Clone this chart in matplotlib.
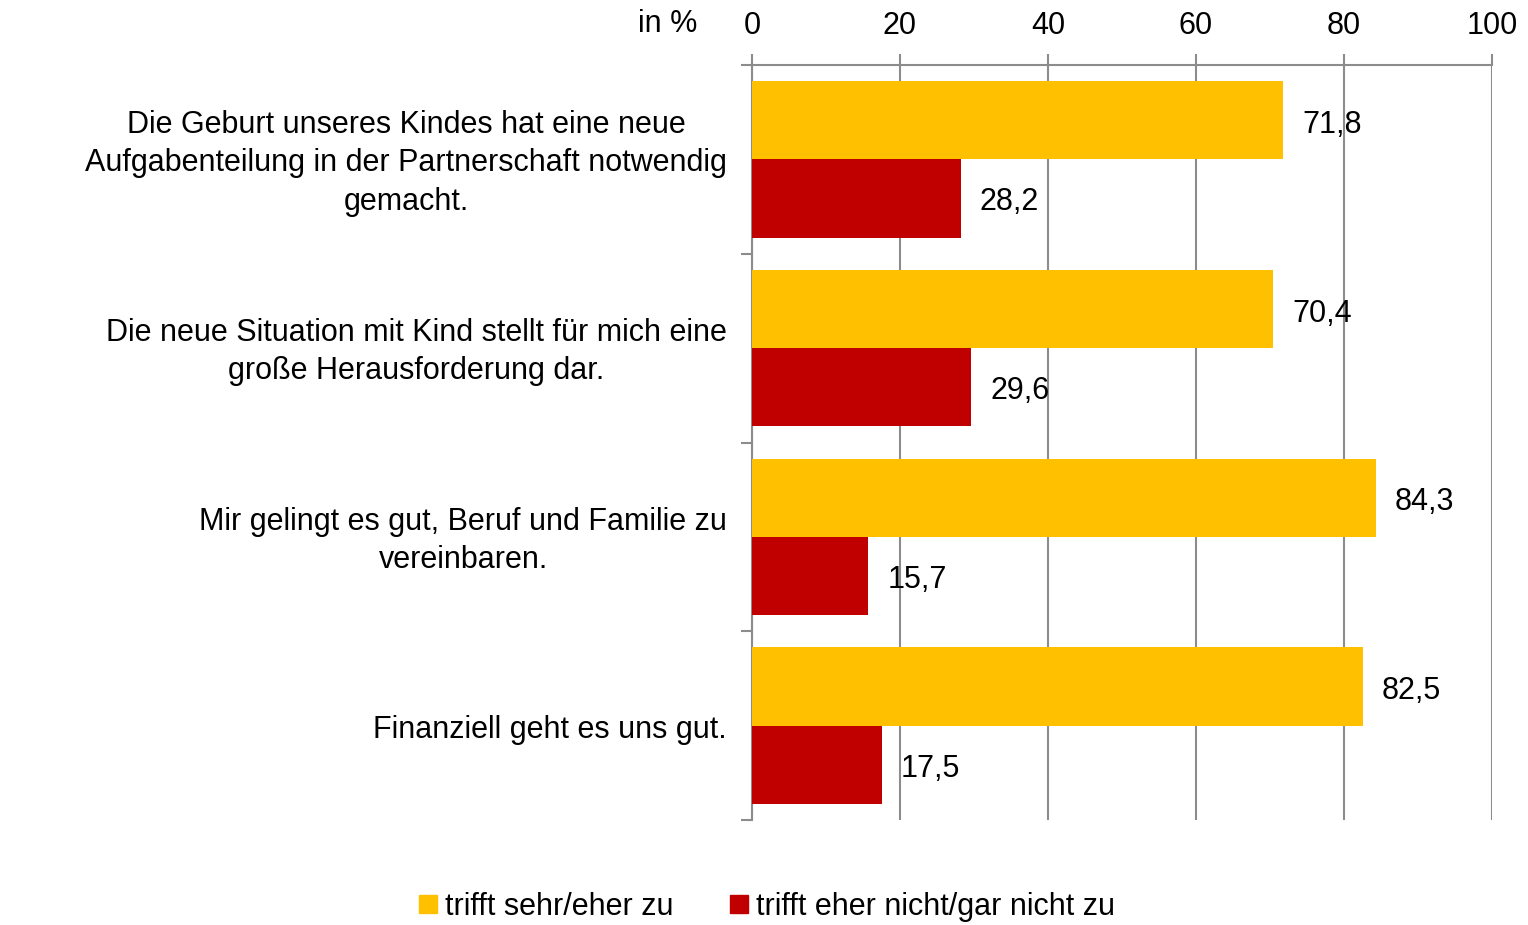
import matplotlib
matplotlib.use("Agg")
import matplotlib.pyplot as plt
import matplotlib.transforms as mtransforms
from matplotlib.lines import Line2D
import numpy as np

plt.rcParams['font.family'] = ['Liberation Sans', 'DejaVu Sans']

categories = [
    "Die Geburt unseres Kindes hat eine neue\nAufgabenteilung in der Partnerschaft notwendig\ngemacht.",
    "Die neue Situation mit Kind stellt für mich eine\ngroße Herausforderung dar.",
    "Mir gelingt es gut, Beruf und Familie zu\nvereinbaren.",
    "Finanziell geht es uns gut.",
]
series_names = ["trifft sehr/eher zu", "trifft eher nicht/gar nicht zu"]
agree = [71.8, 70.4, 84.3, 82.5]
disagree = [28.2, 29.6, 15.7, 17.5]
xticks = [0, 20, 40, 60, 80, 100]

YELLOW = "#FFC000"
RED = "#C00000"
GRID = "#8C8C8C"
FS = 22

fig = plt.figure(figsize=(15.28, 9.25), dpi=100)
ax = fig.add_axes([752/1528, 1-820/925, (1492-752)/1528, (820-65)/925])

y = np.arange(len(categories))
h = 0.415
ax.barh(y - h/2, agree, height=h, color=YELLOW, zorder=3)
ax.barh(y + h/2, disagree, height=h, color=RED, zorder=3)

for yi, v in zip(y - h/2, agree):
    ax.text(v + 2.6, yi + 0.025, f"{v:.1f}".replace('.', ','), va='center', ha='left', fontsize=FS, zorder=4)
for yi, v in zip(y + h/2, disagree):
    ax.text(v + 2.6, yi + 0.02, f"{v:.1f}".replace('.', ','), va='center', ha='left', fontsize=FS, zorder=4)

ax.set_xlim(0, 100)
ax.set_ylim(len(categories) - 0.5, -0.5)
ax.xaxis.tick_top()
ax.set_xticks(xticks)
ax.set_xticklabels([str(t) for t in xticks], fontsize=FS)
ax.tick_params(axis='x', length=8, width=1.5, color=GRID, pad=9)
ax.grid(axis='x', color=GRID, linewidth=1.5, zorder=0)

ax.set_yticks(y)
ax.set_yticklabels(categories, fontsize=FS, multialignment='center', linespacing=1.38, va='center')
ax.tick_params(axis='y', which='major', length=0, pad=18)
ax.set_yticks(np.arange(-0.5, len(categories)), minor=True)
ax.tick_params(axis='y', which='minor', length=8, width=1.5, color=GRID)
offset = mtransforms.ScaledTranslation(0, -4/100, fig.dpi_scale_trans)
for lbl in ax.get_yticklabels():
    lbl.set_transform(lbl.get_transform() + offset)

for s in ['right', 'bottom']:
    ax.spines[s].set_visible(False)
for s in ['left', 'top']:
    ax.spines[s].set_color(GRID)
    ax.spines[s].set_linewidth(1.5)

fig.text(697/1528, 1-24/925, "in %", ha='right', va='center', fontsize=FS)

handles = [Line2D([], [], marker='s', linestyle='none', markersize=13, color=YELLOW),
           Line2D([], [], marker='s', linestyle='none', markersize=13, color=RED)]
fig.legend(handles, series_names, loc='center', bbox_to_anchor=(766/1528, 1-907/925),
           ncol=2, frameon=False, fontsize=FS, handletextpad=0.2, columnspacing=1.8,
           handlelength=0.7)

fig.savefig("out.png", dpi=100)
